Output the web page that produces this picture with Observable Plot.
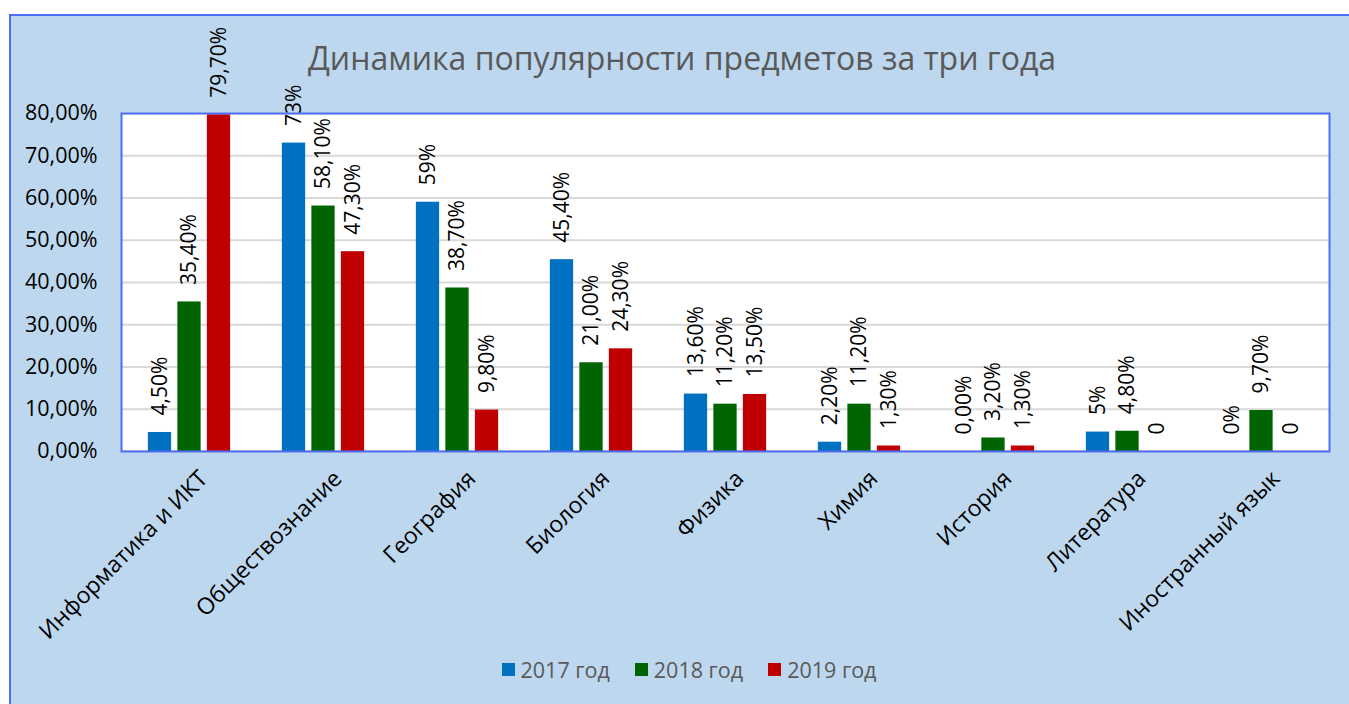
<!DOCTYPE html>
<html>
<head>
<meta charset="utf-8">
<script src="https://cdn.jsdelivr.net/npm/d3@7"></script>
<script src="https://cdn.jsdelivr.net/npm/@observablehq/plot@0.6"></script>
<style>
  html, body { margin: 0; padding: 0; background: #ffffff; width: 1349px; height: 704px; overflow: hidden; position: relative; font-family: "Open Sans", sans-serif; }
  #bg { position: absolute; left: 9px; top: 14px; width: 1400px; height: 720px; background: #BDD7EE; border-left: 2px solid #4D6FF5; border-top: 2px solid #4D6FF5; }
  #title { position: absolute; left: 0; width: 1364px; top: 36px; text-align: center; font-size: 32px; color: #595959; }
  #chart { position: absolute; left: 0; top: 0; }
  #legend { position: absolute; top: 655px; left: 0; width: 1378px; display: flex; justify-content: center; gap: 25px; font-size: 21.5px; color: #595959; }
  .item { display: flex; align-items: center; gap: 6px; }
  .sw { width: 13px; height: 13px; display: inline-block; }
</style>
</head>
<body>
<div id="bg"></div>
<div id="title">Динамика популярности предметов за три года</div>
<div id="chart"></div>
<div id="legend"></div>
<script>
const categories = ["Информатика и ИКТ", "Обществознание", "География", "Биология", "Физика", "Химия", "История", "Литература", "Иностранный язык"];
const seriesNames = ["2017 год", "2018 год", "2019 год"];
const seriesColors = ["#0070C0", "#006400", "#C00000"];
const values2017 = [4.5, 73, 59, 45.4, 13.6, 2.2, 0, 4.6, 0];
const values2018 = [35.4, 58.1, 38.7, 21.0, 11.2, 11.2, 3.2, 4.8, 9.7];
const values2019 = [79.7, 47.3, 9.8, 24.3, 13.5, 1.3, 1.3, 0, 0];
const labels2017 = ["4,50%", "73%", "59%", "45,40%", "13,60%", "2,20%", "0,00%", "5%", "0%"];
const labels2018 = ["35,40%", "58,10%", "38,70%", "21,00%", "11,20%", "11,20%", "3,20%", "4,80%", "9,70%"];
const labels2019 = ["79,70%", "47,30%", "9,80%", "24,30%", "13,50%", "1,30%", "1,30%", "0", "0"];
const yTicks = [0, 10, 20, 30, 40, 50, 60, 70, 80];

const seriesValues = [values2017, values2018, values2019];
const seriesLabels = [labels2017, labels2018, labels2019];
const offsets = [-29.5, 0, 29.5];

const W = 1349, H = 650;
const mL = 121, mR = 20, mT = 113, mB = H - 451;
const band = (W - mL - mR) / categories.length;
const barW = 23.5;
const inset = (band - barW) / 2;

const marks = [
  Plot.frame({fill: "white"}),
  Plot.gridY(yTicks, {stroke: "#D9D9D9", strokeOpacity: 1, strokeWidth: 2}),
  Plot.ruleY([0], {stroke: "#D0D0D0", strokeWidth: 2})
];
seriesValues.forEach((vals, s) => {
  const rows = categories.map((c, i) => ({cat: c, v: vals[i], label: seriesLabels[s][i]}));
  marks.push(Plot.barY(rows, {x: "cat", y: "v", fill: seriesColors[s], insetLeft: inset, insetRight: inset, dx: offsets[s]}));
  marks.push(Plot.text(rows, {x: "cat", y: "v", text: "label", rotate: -90, textAnchor: "start", dx: offsets[s], dy: -17, fill: "#000", fontSize: 21}));
});
marks.push(Plot.frame({stroke: "#4D6FF5", strokeWidth: 2}));
marks.push(Plot.axisY(yTicks, {label: null, tickSize: 0, tickPadding: 24, tickFormat: d => d.toFixed(2).replace(".", ",") + "%", fill: "#000", fontSize: 21.5}));
marks.push(Plot.text(categories, {x: d => d, y: () => 0, text: d => d, rotate: -45, textAnchor: "end", lineAnchor: "top", dx: 8, dy: 17, fill: "#000", fontSize: 23}));

const chart = Plot.plot({
  width: W, height: H,
  marginLeft: mL, marginRight: mR, marginTop: mT, marginBottom: mB,
  x: {domain: categories, padding: 0, axis: null},
  y: {domain: [0, 80], axis: null},
  style: {fontFamily: "Open Sans", fontSize: "21px", background: "transparent", color: "#000", overflow: "visible"},
  marks
});
document.getElementById("chart").appendChild(chart);

const legend = document.getElementById("legend");
seriesNames.forEach((n, i) => {
  const it = document.createElement("div");
  it.className = "item";
  const sw = document.createElement("span");
  sw.className = "sw";
  sw.style.background = seriesColors[i];
  const t = document.createElement("span");
  t.textContent = n;
  it.appendChild(sw); it.appendChild(t);
  legend.appendChild(it);
});
</script>
</body>
</html>
